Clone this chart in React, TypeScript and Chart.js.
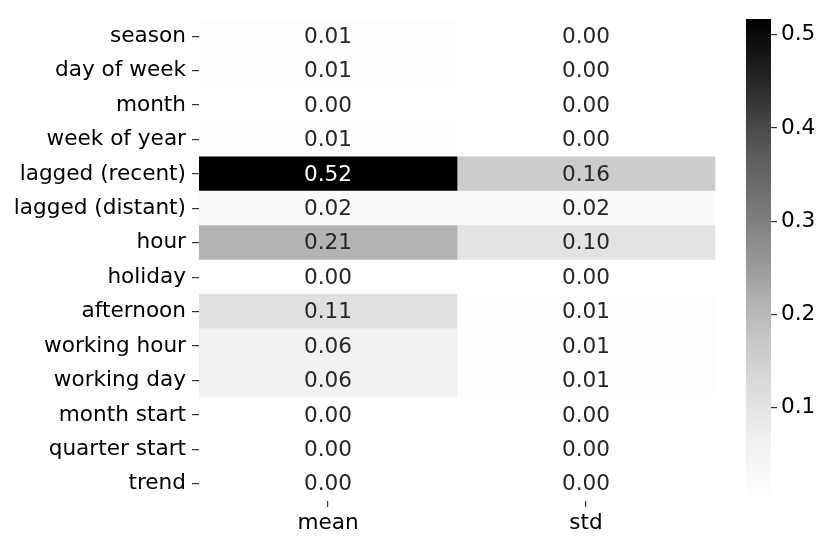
import React, { useEffect, useRef } from 'react';
import { Chart, registerables } from 'chart.js';

Chart.register(...registerables);

const ROWS = [
  'season', 'day of week', 'month', 'week of year', 'lagged (recent)', 'lagged (distant)',
  'hour', 'holiday', 'afternoon', 'working hour', 'working day', 'month start', 'quarter start', 'trend',
];
const COLS = ['mean', 'std'];
const MEAN = [0.01, 0.01, 0.0, 0.01, 0.517, 0.02, 0.21, 0.0, 0.11, 0.06, 0.06, 0.0, 0.0, 0.0];
const STD = [0.0, 0.0, 0.0, 0.0, 0.16, 0.02, 0.10, 0.0, 0.01, 0.01, 0.01, 0.0, 0.0, 0.0];
const CB_TICKS = [0.1, 0.2, 0.3, 0.4, 0.5];
const VMIN = 0;
const VMAX = Math.max(...MEAN, ...STD);

const GREYS = [1.0, 0.9412, 0.851, 0.7412, 0.5882, 0.451, 0.3216, 0.1451, 0.0];
const FONT = '"DejaVu Sans", sans-serif';
const FS = 21.6;

function greyLevel(t: number): number {
  const c = Math.max(0, Math.min(1, t)) * 8;
  const i = Math.min(7, Math.floor(c));
  const f = c - i;
  return GREYS[i] + (GREYS[i + 1] - GREYS[i]) * f;
}
function cellColor(v: number): string {
  const g = Math.round(greyLevel((v - VMIN) / (VMAX - VMIN)) * 255);
  return `rgb(${g},${g},${g})`;
}
function textColor(v: number): string {
  const g = greyLevel((v - VMIN) / (VMAX - VMIN));
  const lin = g <= 0.03928 ? g / 12.92 : Math.pow((g + 0.055) / 1.055, 2.4);
  return lin > 0.408 ? '#262626' : '#ffffff';
}

const SERIES = [MEAN, STD];

const annotatePlugin = {
  id: 'annotate',
  afterDatasetsDraw(chart: any) {
    const ctx = chart.ctx;
    ctx.save();
    ctx.font = `${FS}px ${FONT}`;
    ctx.textAlign = 'center';
    ctx.textBaseline = 'middle';
    chart.data.datasets.forEach((ds: any, di: number) => {
      const meta = chart.getDatasetMeta(di);
      meta.data.forEach((el: any, i: number) => {
        const v = ds.values[i];
        const cx = (el.x + el.base) / 2;
        ctx.fillStyle = textColor(v);
        ctx.fillText(v.toFixed(2), cx, el.y + 1);
      });
    });
    ctx.restore();
  },
};

const colorbarPlugin = {
  id: 'colorbar',
  beforeDatasetsDraw(chart: any) {
    const ctx = chart.ctx;
    const xs = chart.scales.x;
    const cb = chart.scales.cb;
    const x0 = xs.getPixelForValue(2.12);
    const x1 = chart.chartArea.right;
    const yTop = cb.getPixelForValue(VMAX);
    const yBot = cb.getPixelForValue(VMIN);
    const grad = ctx.createLinearGradient(0, yBot, 0, yTop);
    for (let i = 0; i <= 8; i++) {
      const g = Math.round(GREYS[i] * 255);
      grad.addColorStop(i / 8, `rgb(${g},${g},${g})`);
    }
    ctx.save();
    ctx.fillStyle = grad;
    ctx.fillRect(x0, yTop, x1 - x0, yBot - yTop);
    ctx.restore();
  },
};

export default function App() {
  const ref = useRef<HTMLCanvasElement | null>(null);
  useEffect(() => {
    if (!ref.current) return;
    Chart.defaults.font.family = FONT;
    const chart = new Chart(ref.current, {
      type: 'bar',
      data: {
        labels: ROWS,
        datasets: SERIES.map((vals, ci) => ({
          label: COLS[ci],
          data: vals.map(() => [ci, ci + 1]),
          values: vals,
          backgroundColor: vals.map((v) => cellColor(v)),
          borderWidth: 0,
          grouped: false,
          barPercentage: 1,
          categoryPercentage: 1,
        })) as any,
      },
      options: {
        indexAxis: 'y',
        animation: false,
        responsive: true,
        maintainAspectRatio: false,
        layout: { padding: { top: 19, left: 0, right: 0, bottom: 0 } },
        plugins: { legend: { display: false }, tooltip: { enabled: false } },
        scales: {
          x: {
            type: 'linear',
            min: 0,
            max: 572 / 258,
            offset: false,
            afterBuildTicks: (s: any) => {
              s.ticks = COLS.map((_, i) => ({ value: i + 0.5 }));
            },
            afterFit: (s: any) => {
              s.height = 45;
            },
            ticks: {
              autoSkip: false,
              maxRotation: 0,
              padding: 3,
              color: '#000',
              font: { size: FS, family: FONT },
              callback: (v: any) => COLS[Math.floor(Number(v))],
            },
            grid: { drawOnChartArea: false, drawTicks: true, tickLength: 6, color: '#333', lineWidth: 1.2, offset: false },
            border: { display: false },
          },
          y: {
            type: 'category',
            afterFit: (s: any) => {
              s.width = 199;
            },
            ticks: { color: '#000', padding: 6, font: { size: FS, family: FONT }, autoSkip: false },
            grid: { drawOnChartArea: false, drawTicks: true, tickLength: 7, color: '#333', lineWidth: 1.2, offset: false },
            border: { display: false },
          },
          cb: {
            type: 'linear',
            position: 'right',
            min: VMIN,
            max: VMAX,
            offset: false,
            afterBuildTicks: (s: any) => {
              s.ticks = CB_TICKS.map((v) => ({ value: v }));
            },
            afterFit: (s: any) => {
              s.width = 60;
            },
            ticks: {
              color: '#000',
              padding: 4,
              font: { size: FS, family: FONT },
              callback: (v: any) => Number(v).toFixed(1),
            },
            grid: { drawOnChartArea: false, drawTicks: true, tickLength: 6, color: '#333', lineWidth: 1.2, offset: false },
            border: { display: false },
          },
        },
      } as any,
      plugins: [colorbarPlugin, annotatePlugin],
    });
    return () => chart.destroy();
  }, []);
  return (
    <div style={{ position: 'absolute', left: 0, top: 0, width: 831, height: 546, background: '#fff' }}>
      <canvas ref={ref} />
    </div>
  );
}
